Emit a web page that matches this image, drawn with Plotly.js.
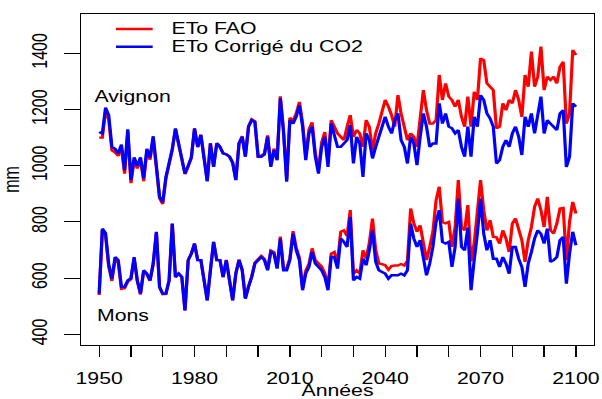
<!DOCTYPE html>
<html><head><meta charset="utf-8">
<script src="https://cdn.plot.ly/plotly-3.0.1.min.js"></script>
<style>
html,body{margin:0;padding:0;overflow:hidden;background:#fff;width:602px;height:399px;}
#wrap{width:602px;height:399px;overflow:hidden;position:relative;}
#chart{width:453px;height:399px;transform:scaleX(1.3289);transform-origin:0 0;}
</style></head><body><div id="wrap"><div id="chart"></div></div>
<script>
const firstYear = 1950, lastYear = 2100;
const years = [];
for (let y = firstYear; y <= lastYear; y++) years.push(y);

const seriesNames = ['ETo FAO', 'ETo Corrigé du CO2'];
const stationNames = ['Avignon', 'Mons'];

const avignonFAO = [
1100,1100,1195,1165,1055,1048,1035,1065,972,1122,
938,1020,990,1022,945,1052,1022,1098,992,884,
864,955,1005,1056,1130,1077,1037,970,998,1028,
1132,1066,1110,1020,945,1080,996,1080,1067,1044,
1041,1033,1011,950,1080,1105,1034,1141,1165,1158,
1035,1036,1044,1108,1001,1061,1026,1247,1128,950,
1171,1160,1186,1227,1153,1032,1129,1154,1046,986,
1083,1120,1012,1162,1139,1115,1103,1091,1139,1180,
1103,1127,1115,1067,1162,1139,1056,1115,1150,1198,
1234,1210,1180,1139,1251,1186,1139,1091,1115,1103,
1067,1174,1269,1198,1150,1150,1162,1323,1234,1293,
1246,1234,1210,1234,1174,1139,1246,1139,1263,1234,
1382,1376,1293,1281,1269,1133,1139,1222,1198,1234,
1222,1269,1234,1174,1323,1281,1406,1281,1317,1424,
1269,1317,1305,1317,1293,1352,1370,1150,1186,1412,
1394];
const avignonCO2 = [
1120,1115,1207,1180,1067,1060,1044,1075,984,1130,
949,1030,1000,1030,955,1060,1030,1105,1000,890,
870,960,1010,1060,1133,1080,1040,972,1000,1030,
1133,1067,1110,1020,945,1080,996,1080,1067,1044,
1040,1032,1010,949,1079,1103,1032,1139,1162,1155,
1032,1032,1040,1103,996,1055,1020,1240,1120,943,
1162,1150,1175,1215,1140,1020,1115,1139,1032,972,
1067,1103,996,1150,1110,1067,1067,1079,1091,1145,
1008,1103,1079,960,1115,1091,1026,1067,1103,1139,
1174,1139,1115,1162,1186,1091,1067,1008,1103,1079,
1002,1103,1186,1139,1067,1079,1079,1222,1150,1186,
1139,1133,1115,1127,1067,1032,1139,1032,1174,1139,
1251,1234,1186,1168,1139,1008,1020,1067,1091,1067,
1115,1139,1103,1038,1174,1139,1186,1115,1174,1246,
1115,1162,1150,1139,1127,1186,1198,996,1032,1222,
1210];
const monsFAO = [
540,770,752,640,590,665,655,562,564,587,
596,670,589,542,625,613,590,650,762,567,
543,544,591,793,603,616,604,485,664,687,
723,664,664,592,521,628,729,664,664,604,
665,593,522,617,666,630,529,571,607,655,
667,679,668,632,698,692,639,748,634,634,
671,767,708,673,565,626,651,706,664,652,
641,617,570,687,693,655,765,770,750,842,
615,628,616,699,670,725,812,700,652,650,
646,630,643,645,645,650,645,662,848,795,
765,788,725,664,711,765,877,925,800,795,
800,711,782,949,782,770,860,660,725,842,
949,842,770,806,747,745,723,770,741,693,
794,812,770,735,658,735,782,854,883,842,
782,889,770,759,794,848,850,664,800,871,
830];
const monsCO2 = [
545,776,760,650,598,675,664,569,569,592,
600,675,592,545,628,616,592,652,765,569,
545,545,592,794,604,616,604,485,664,687,
723,664,664,592,521,628,729,664,664,604,
664,592,521,616,664,628,527,569,604,652,
664,675,664,628,693,687,634,741,628,628,
664,758,699,664,557,616,640,693,652,640,
628,604,557,675,675,634,741,729,711,818,
592,604,598,669,646,699,770,658,628,622,
616,598,610,610,610,616,610,628,794,741,
711,735,675,610,652,711,800,842,729,723,
729,640,711,883,711,699,780,557,664,758,
883,758,699,735,669,669,640,675,652,616,
711,711,669,640,569,652,693,741,770,758,
723,776,658,664,675,735,747,580,687,765,
717];

const xTickVals = [1950,1960,1970,1980,1990,2000,2010,2020,2030,2040,2050,2060,2070,2080,2090,2100];
const xTickText = ['1950','','','1980','','','2010','','','2040','','','2070','','','2100'];
const yTickVals = [400,600,800,1000,1200,1400];
const yTickText = ['400','600','800','1000','1200','1400'];

const RED = '#FF0000', BLUE = '#0000FF';
const FONT = 'Liberation Sans, Arial, Helvetica, sans-serif';
const LW = 2.4;

function tr(y, name, color) {
  return {x: years, y: y, type: 'scatter', mode: 'lines', name: name,
    line: {color: color, width: LW}, showlegend: false, hoverinfo: 'skip'};
}
const data = [
  tr(avignonFAO, seriesNames[0] + ' ' + stationNames[0], RED),
  tr(monsFAO, seriesNames[0] + ' ' + stationNames[1], RED),
  tr(avignonCO2, seriesNames[1] + ' ' + stationNames[0], BLUE),
  tr(monsCO2, seriesNames[1] + ' ' + stationNames[1], BLUE)
];

const legY1 = 0.9547, legY2 = 0.9011;
const layout = {
  width: 453, height: 399,
  margin: {l: 61.4, r: 5.6, t: 14, b: 54.3, pad: 0},
  paper_bgcolor: '#ffffff', plot_bgcolor: '#ffffff',
  showlegend: false,
  font: {family: FONT, size: 16, color: '#000'},
  xaxis: {
    range: [1944.3, 2105.7], tickmode: 'array', tickvals: xTickVals, ticktext: xTickText,
    ticks: 'outside', ticklen: 11, tickwidth: 1, tickcolor: '#000',
    showline: true, mirror: true, linecolor: '#000', linewidth: 1,
    showgrid: false, zeroline: false, ticklabelstandoff: 8,
    tickfont: {family: FONT, size: 16, color: '#000'},
    title: {text: 'Années', standoff: 9, font: {family: FONT, size: 16, color: '#000'}}
  },
  yaxis: {
    range: [362, 1540], tickmode: 'array', tickvals: yTickVals, ticktext: yTickText, tickangle: -90,
    ticks: 'outside', ticklen: 12, tickwidth: 1, tickcolor: '#000',
    showline: true, mirror: true, linecolor: '#000', linewidth: 1,
    showgrid: false, zeroline: false, ticklabelstandoff: 6,
    tickfont: {family: FONT, size: 16, color: '#000'},
    title: {text: 'mm', standoff: 4, font: {family: FONT, size: 16, color: '#000'}}
  },
  shapes: [
    {type: 'line', xref: 'paper', yref: 'paper', x0: 0.0681, x1: 0.1396, y0: legY1, y1: legY1, line: {color: RED, width: 2.4}},
    {type: 'line', xref: 'paper', yref: 'paper', x0: 0.0681, x1: 0.1396, y0: legY2, y1: legY2, line: {color: BLUE, width: 2.4}}
  ],
  annotations: [
    {xref: 'paper', yref: 'paper', x: 0.170, y: legY1, xanchor: 'left', yanchor: 'middle', text: seriesNames[0], showarrow: false, font: {family: FONT, size: 16, color: '#000'}},
    {xref: 'paper', yref: 'paper', x: 0.170, y: legY2, xanchor: 'left', yanchor: 'middle', text: seriesNames[1], showarrow: false, font: {family: FONT, size: 16, color: '#000'}},
    {xref: 'x', yref: 'y', x: 1947.8, y: 1245, xanchor: 'left', yanchor: 'middle', text: stationNames[0], showarrow: false, font: {family: FONT, size: 16, color: '#000'}},
    {xref: 'x', yref: 'y', x: 1948.3, y: 468, xanchor: 'left', yanchor: 'middle', text: stationNames[1], showarrow: false, font: {family: FONT, size: 16, color: '#000'}}
  ]
};
Plotly.newPlot('chart', data, layout, {staticPlot: true, displayModeBar: false});
</script>
</body></html>
